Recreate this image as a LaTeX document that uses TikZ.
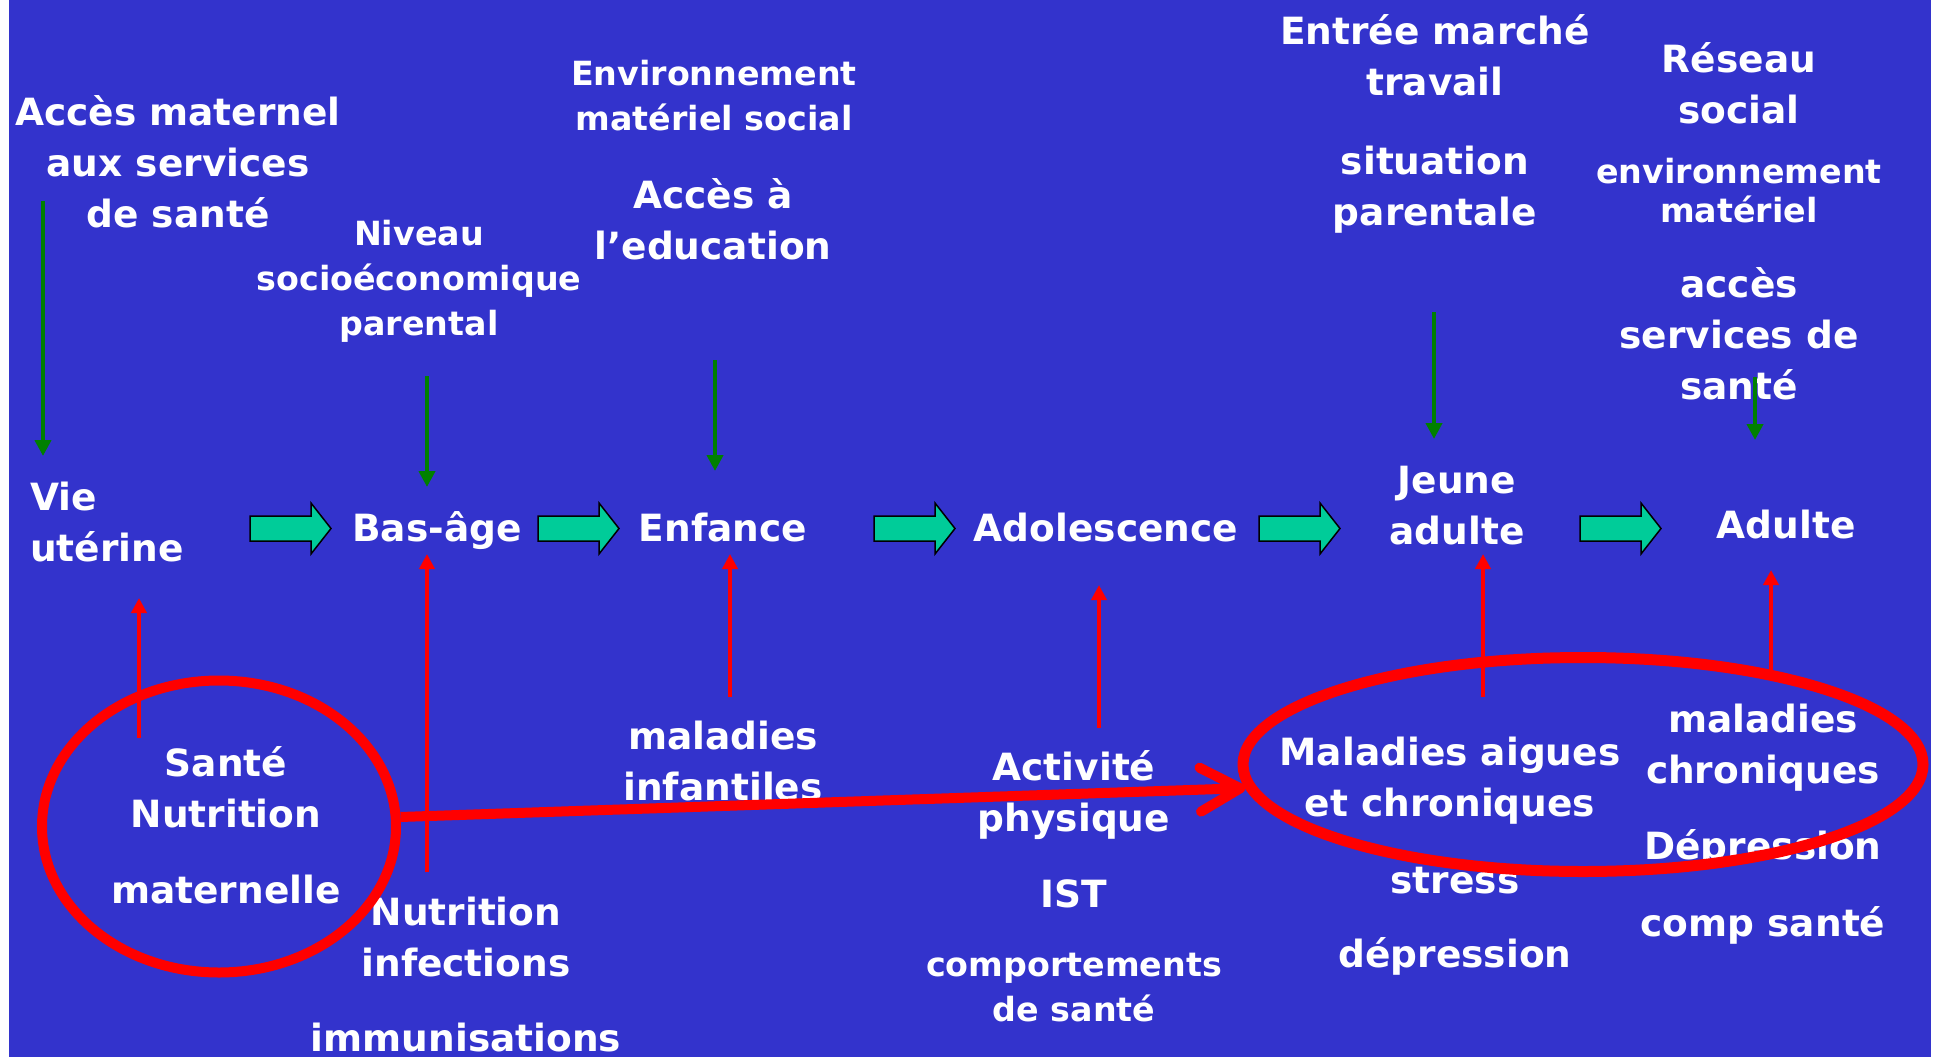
\documentclass[tikz,border=0pt]{standalone}
\usepackage{fontspec}
\setmainfont{DejaVu Sans}
\usetikzlibrary{arrows.meta,shapes.geometric}
\definecolor{bgblue}{RGB}{51,51,204}
\definecolor{arrowgreen}{RGB}{0,204,153}
\definecolor{darkgreen}{RGB}{0,128,0}
\newcommand{\stk}[1]{\begin{tabular}[t]{@{}c@{}}#1\end{tabular}}
\newcommand{\stkl}[1]{\begin{tabular}[t]{@{}l@{}}#1\end{tabular}}
\tikzset{
  big/.style={font=\fontsize{37.5}{51}\selectfont\bfseries, text=white, inner sep=0pt, anchor=base},
  small/.style={font=\fontsize{33.3}{45}\selectfont\bfseries, text=white, inner sep=0pt, anchor=base},
  greenarrow/.style={draw=darkgreen, line width=4.5pt, -{Triangle[length=16pt,width=16pt]}},
  redarrow/.style={draw=red, line width=4.5pt, -{Triangle[length=15pt,width=15pt]}},
  barrow/.style={fill=arrowgreen, draw=black, line width=1.5pt, line join=miter},
  ring/.style={ellipse, draw=red, inner sep=0pt},
  blockarrow/.pic={\path[barrow] (0,-12.5) -- (61,-12.5) -- (61,-25.5) -- (81,0) -- (61,25.5) -- (61,12.5) -- (0,12.5) -- cycle;}
}
\begin{document}
\begin{tikzpicture}[x=1pt,y=-1pt]
\useasboundingbox (0,0) rectangle (1934,1057);
\fill[white] (0,0) rectangle (1934,1057);
\fill[bgblue] (9,0) rectangle (1931,1057);

% top factors
\node[big] (accmat) at (178,125) {\stk{Accès maternel\\aux services\\de santé}};
\node[small] (niveau) at (419,245) {\stk{Niveau\\socioéconomique\\parental}};
\node[small] (envir) at (714,85) {\stk{Environnement\\matériel social}};
\node[big] (accedu) at (713,208) {\stk{Accès à\\l’education}};
\node[big] (entree) at (1435,45) {\stk{Entrée marché\\travail}};
\node[big] (situ) at (1435,174) {\stk{situation\\parentale}};
\node[big] (reseau) at (1739,73) {\stk{Réseau\\social}};
\node[small] (envmat) at (1739,183) {\stk{environnement\\[-6pt]matériel}};
\node[big] (accserv) at (1739,297) {\stk{accès\\services de\\santé}};

% stages
\node[big, anchor=base west] (vie) at (30,510) {\stkl{Vie\\utérine}};
\node[big] (basage) at (437,541) {Bas-âge};
\node[big] (enfance) at (723,541) {Enfance};
\node[big] (adolescence) at (1106,541) {Adolescence};
\node[big] (jeune) at (1457,493) {\stk{Jeune\\adulte}};
\node[big] (adulte) at (1786,538) {Adulte};

% bottom factors
\node[big] (sante) at (226,776) {\stk{Santé\\Nutrition\\[25pt]maternelle}};
\node[big] (nutr) at (466,925) {\stk{Nutrition\\infections\\[24pt]immunisations}};
\node[big] (malinf) at (723,749) {\stk{maladies\\infantiles}};
\node[big] (activ) at (1074,780) {\stk{Activité\\physique\\[25pt]IST}};
\node[small] (comport) at (1074,976) {\stk{comportements\\de santé}};
\node[big] (malaig) at (1450,765) {\stk{Maladies aigues\\et chroniques}};
\node[big] (stress) at (1455,893) {\stk{stress\\[23pt]dépression}};
\node[big] (malchr) at (1763,732) {\stk{maladies\\chroniques\\[25pt]Dépression\\[26pt]comp santé}};

% block arrows between stages
\pic at (250,528.5) {blockarrow};
\pic at (538,528.5) {blockarrow};
\pic at (874,528.5) {blockarrow};
\pic at (1259,528.5) {blockarrow};
\pic at (1580,528.5) {blockarrow};

% green arrows (down)
\coordinate (g1s) at (43,201);  \coordinate (g1e) at (43,456);
\coordinate (g2s) at (427,376); \coordinate (g2e) at (427,487);
\coordinate (g3s) at (715,360); \coordinate (g3e) at (715,471);
\coordinate (g4s) at (1434,312); \coordinate (g4e) at (1434,439);
\coordinate (g5s) at (1755,377); \coordinate (g5e) at (1755,440);
\draw[greenarrow] (g1s) -- (g1e);
\draw[greenarrow] (g2s) -- (g2e);
\draw[greenarrow] (g3s) -- (g3e);
\draw[greenarrow] (g4s) -- (g4e);
\draw[greenarrow] (g5s) -- (g5e);

% red arrows (up)
\coordinate (r1s) at (139,738);  \coordinate (r1e) at (139,598);
\coordinate (r2s) at (427,872);  \coordinate (r2e) at (427,554);
\coordinate (r3s) at (730,697);  \coordinate (r3e) at (730,554);
\coordinate (r4s) at (1099,728); \coordinate (r4e) at (1099,585);
\coordinate (r5s) at (1483,697); \coordinate (r5e) at (1483,554);
\coordinate (r6s) at (1771,672); \coordinate (r6e) at (1771,570);
\draw[redarrow] (r1s) -- (r1e);
\draw[redarrow] (r2s) -- (r2e);
\draw[redarrow] (r3s) -- (r3e);
\draw[redarrow] (r4s) -- (r4e);
\draw[redarrow] (r5s) -- (r5e);
\draw[redarrow] (r6s) -- (r6e);

% red rings
\node[ring, line width=10pt, minimum width=354pt, minimum height=292pt] (c1) at (219,826.5) {};
\node[ring, line width=11pt, minimum width=680pt, minimum height=214pt] (c2) at (1583,764.5) {};
\draw[red, line width=10pt, -{Straight Barb[length=40pt,width=44pt,round]}] (c1.3) -- (c2.184);
\end{tikzpicture}
\end{document}
